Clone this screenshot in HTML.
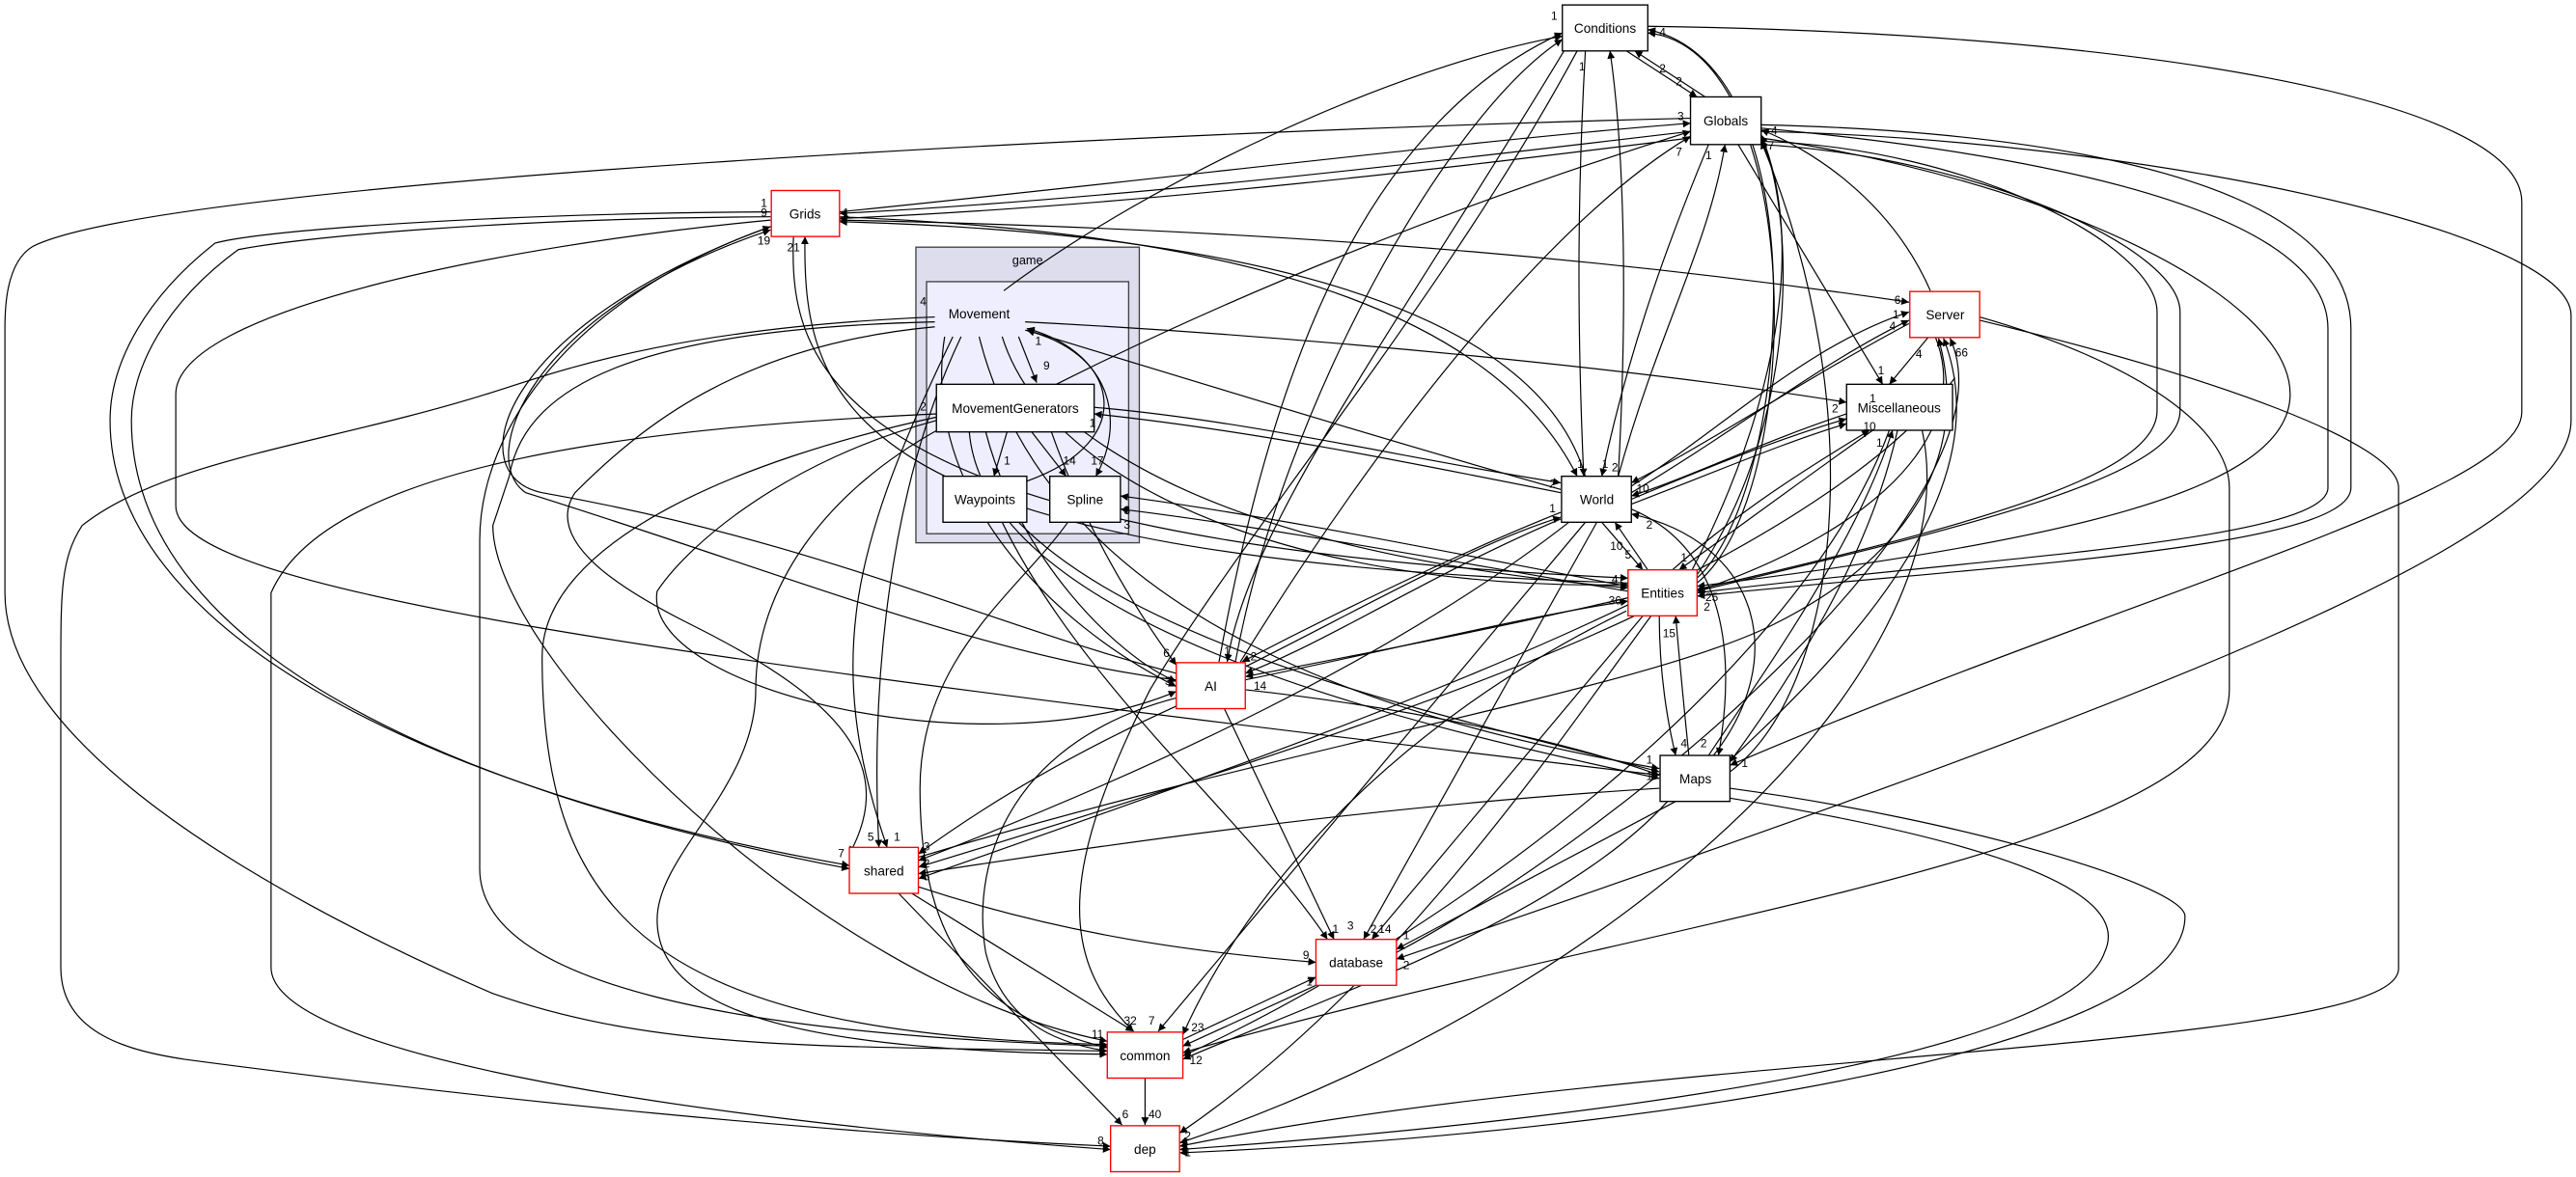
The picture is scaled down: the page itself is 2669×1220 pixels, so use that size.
<!DOCTYPE html>
<html><head><meta charset="utf-8"><style>
html,body{margin:0;padding:0;background:#fff;}
svg{display:block;}
text{font-family:"Liberation Sans","DejaVu Sans",sans-serif;}
</style></head><body>
<svg width="2669" height="1220" viewBox="0 0 1568 716.7" xmlns="http://www.w3.org/2000/svg">
<defs>
<marker id="a" viewBox="0 0 10 10" refX="10" refY="5" markerWidth="6" markerHeight="4.6" markerUnits="userSpaceOnUse" orient="auto"><path d="M0,0L10,5L0,10z" fill="#000"/></marker>
</defs>
<rect width="1568" height="717" fill="#fff"/>
<!-- clusters -->
<rect x="557.5" y="150.5" width="136" height="180" fill="#ddddee" stroke="#444" stroke-width="0.8"/>
<text x="625.5" y="161" font-size="7.5" text-anchor="middle">game</text>
<rect x="564" y="171.5" width="123" height="153.5" fill="#eeeeff" stroke="#444" stroke-width="0.8"/>

<g fill="none" stroke="#000" stroke-width="0.7" marker-end="url(#a)">
<!-- inside game -->
<path d="M620,205 L631,233"/>
<path d="M613,263 L605,290"/>
<path d="M628,263 L649,290"/>
<path d="M624,201 C680,215 684,260 667,290"/>
<path d="M625,293 C695,268 680,215 625,200"/>
<!-- Movement / MG outward -->
<path d="M643,234 C760,175 900,120 1029,80"/>
<path d="M611,177 C700,110 850,40 951,22"/>
<path d="M624,196 C800,205 1000,225 1124,245"/>
<path d="M950,298 C850,270 720,230 625,201"/>
<path d="M950,300 C850,280 760,262 666,252"/>
<path d="M666,248 C760,256 860,280 950,294"/>
<path d="M991,357 C900,340 780,315 682,302"/>
<path d="M991,360 C900,345 780,322 682,310"/>
<!-- Grids -->
<path d="M511,129 C700,110 900,85 1029,75"/>
<path d="M1029,80 C900,95 700,120 511,130"/>
<path d="M1029,84 C900,100 700,125 511,133"/>
<path d="M511,132 C700,140 900,170 960,290"/>
<path d="M965,290 C930,170 700,140 511,135"/>
<path d="M511,134 C800,140 1000,160 1162,184"/>
<path d="M483,144 C480,220 500,330 991,352"/>
<path d="M991,355 C520,340 488,250 490,144"/>
<!-- Conditions / Globals -->
<path d="M965,31 C960,120 960,200 964,290"/>
<path d="M985,290 C990,200 990,100 980,31"/>
<path d="M990,31 L1033,59"/>
<path d="M1038,59 L995,31"/>
<path d="M1040,88 C1010,160 990,220 975,290"/>
<path d="M985,290 C1010,200 1040,150 1050,88"/>
<path d="M1058,88 L1146,234"/>
<path d="M960,31 C880,180 760,320 700,420 C650,520 640,580 690,628"/>
<path d="M742,403 C770,250 820,80 951,20"/>
<path d="M752,403 C780,250 880,70 951,24"/>
<path d="M952,31 C850,200 760,320 747,403"/>
<path d="M755,403 C850,250 950,130 1029,83"/>
<path d="M1175,177 C1150,120 1100,90 1072,79"/>
<path d="M1030,347 C1080,250 1100,150 1072,82"/>
<path d="M1033,350 C1100,250 1090,120 1072,85"/>
<path d="M1033,352 C1090,300 1110,40 1003,18"/>
<path d="M1033,355 C1100,300 1100,30 1003,20"/>
<!-- far right curves -->
<path d="M1003,16 C1300,20 1535,60 1535,123 L1535,251 C1535,300 1300,360 1053,466"/>
<path d="M1072,80 C1300,85 1565,140 1565,192 L1565,256 C1565,330 1300,430 850,584"/>
<path d="M1072,78 C1200,90 1417,120 1417,200 L1417,297 C1417,330 1200,340 1033,361"/>
<path d="M1072,76 C1250,80 1431,110 1431,200 L1431,297 C1431,335 1200,345 1033,363"/>
<path d="M1072,86 C1200,90 1313,150 1313,190 L1313,250 C1313,290 1200,320 1033,359"/>
<path d="M1072,88 C1200,95 1327,150 1327,190 L1327,250 C1327,290 1200,320 1033,360"/>
<path d="M1072,84 C1250,110 1394,180 1394,240 C1394,300 1250,330 1033,357"/>
<path d="M1205,193 C1300,220 1357,260 1357,297 L1357,420 C1357,520 1000,560 720,641"/>
<path d="M1205,195 C1350,230 1460,270 1460,297 L1460,590 C1460,640 1000,640 718,698"/>
<path d="M1053,486 C1200,510 1300,540 1281,580 C1260,640 1000,680 718,700"/>
<path d="M1053,480 C1200,500 1330,540 1330,558 C1330,640 1000,690 718,702"/>
<!-- Server / Misc / World / Entities -->
<path d="M993,296 C1050,260 1100,210 1162,190"/>
<path d="M993,300 C1060,260 1110,220 1162,195"/>
<path d="M1162,197 C1100,230 1040,270 993,294"/>
<path d="M993,304 C1050,280 1090,265 1124,255"/>
<path d="M993,307 C1050,285 1090,268 1124,258"/>
<path d="M1124,252 C1070,270 1030,290 993,302"/>
<path d="M1140,262 C1100,290 1060,320 1022,347"/>
<path d="M1018,347 C1060,310 1100,285 1138,262"/>
<path d="M1174,205 L1150,234"/>
<path d="M1178,205 C1200,260 1150,320 1033,360"/>
<path d="M1053,463 C1120,400 1220,300 1183,206"/>
<path d="M850,580 C1000,500 1230,300 1187,206"/>
<path d="M559,522 C800,450 1000,420 1080,380 C1160,340 1200,280 1180,206"/>
<path d="M975,318 L1000,347"/>
<path d="M1003,347 L983,318"/>
<path d="M1043,460 C1090,400 1070,330 993,313"/>
<path d="M993,310 C1040,330 1060,380 1046,460"/>
<path d="M1010,375 C1010,410 1015,440 1020,460"/>
<path d="M1028,460 C1025,430 1022,400 1020,375"/>
<path d="M1155,262 C1140,330 1100,400 1053,464"/>
<path d="M1040,460 C1080,400 1130,330 1152,262"/>
<path d="M1053,470 C1120,420 1140,250 1072,86"/>
<!-- AI -->
<path d="M950,312 C880,340 800,380 756,403"/>
<path d="M758,406 C830,370 900,330 950,315"/>
<path d="M950,316 C870,350 810,390 758,410"/>
<path d="M991,364 C900,385 820,400 758,412"/>
<path d="M758,414 C850,395 930,375 991,366"/>
<path d="M758,420 C850,430 950,450 1010,472"/>
<path d="M716,430 C650,460 600,490 559,520"/>
<path d="M745,431 L812,572"/>
<path d="M716,425 C620,450 590,520 600,580 C610,620 640,635 674,640"/>
<path d="M640,263 C660,320 690,370 716,405"/>
<path d="M600,263 C620,340 680,400 716,415"/>
<path d="M575,205 C560,300 640,380 716,418"/>
<path d="M580,205 C520,330 500,400 540,516"/>
<path d="M585,205 C540,300 530,420 535,516"/>
<path d="M610,205 C640,300 800,360 991,356"/>
<path d="M660,263 C750,330 900,350 991,358"/>
<path d="M596,205 C640,380 850,440 1010,468"/>
<path d="M590,263 C600,380 850,440 1010,474"/>
<path d="M610,318 C660,420 760,500 808,572"/>
<path d="M620,318 C700,400 900,440 1010,470"/>
<path d="M650,318 C620,360 560,400 560,480 C560,580 600,620 674,638"/>
<path d="M716,410 C600,380 500,330 330,300 C280,290 300,200 469,138"/>
<path d="M716,414 C600,400 480,350 320,300 C290,280 320,190 469,140"/>
<!-- bottom -->
<path d="M559,540 C650,570 730,580 801,586"/>
<path d="M555,544 L690,628"/>
<path d="M547,544 L683,685"/>
<path d="M697,656 L697,685"/>
<path d="M720,633 L801,595"/>
<path d="M801,600 L720,637"/>
<path d="M965,318 L705,628"/>
<path d="M972,318 L830,572"/>
<path d="M1000,375 L835,572"/>
<path d="M995,375 C900,420 750,470 559,528"/>
<path d="M990,372 C850,440 760,540 720,630"/>
<path d="M1005,375 C950,450 850,600 718,690"/>
<path d="M1020,488 L850,578"/>
<path d="M1010,480 C850,490 700,510 559,532"/>
<path d="M1015,488 C950,560 800,610 720,645"/>
<path d="M1150,262 C1100,400 900,560 720,643"/>
<path d="M1170,262 C1200,400 1000,600 718,696"/>
<path d="M955,318 C850,400 700,470 559,524"/>
<path d="M1190,230 C1100,350 800,450 559,535"/>
<!-- far left curves -->
<path d="M1029,72 C700,80 100,110 20,150 C3,160 3,190 3,200 L3,361 C3,450 150,540 300,605 C400,640 500,637 674,640"/>
<path d="M469,129 C300,130 160,140 131,148 C90,180 67,220 67,256 C67,380 250,480 517,527"/>
<path d="M469,132 C300,133 180,145 145,152 C100,185 80,225 80,256 C80,390 260,480 517,529"/>
<path d="M469,134 C300,150 107,190 107,240 L107,308 C107,360 400,400 1010,472"/>
<path d="M569,193 C400,200 330,230 296,240 C200,270 100,280 50,320 C37,340 37,360 37,409 L37,589 C37,630 80,640 112,645 C300,670 500,690 676,698"/>
<path d="M570,252 C400,260 200,280 165,361 L165,589 C165,640 400,680 676,700"/>
<path d="M469,138 C350,180 292,260 292,329 L292,529 C292,600 450,630 674,637"/>
<path d="M569,196 C400,200 320,230 310,290 L300,320 C300,400 500,600 674,634"/>
<path d="M570,254 C450,280 330,330 330,400 C330,560 400,630 674,636"/>
<path d="M569,199 C450,210 390,260 350,300 C330,330 380,360 420,380 C500,420 550,460 517,520"/>
<path d="M570,256 C480,280 420,330 400,360 C390,420 600,470 716,421"/>
<path d="M574,260 C500,300 460,360 460,420 C460,480 400,520 400,560 C400,620 500,640 674,642"/>
</g>

<!-- nodes -->
<g stroke-width="0.8">
<rect x="951" y="3" width="52" height="28" fill="#fff" stroke="#000"/>
<rect x="1029" y="59" width="43" height="29" fill="#fff" stroke="#000"/>
<rect x="469.5" y="116" width="41.5" height="28" fill="#fff" stroke="#f00"/>
<rect x="1162.5" y="177.5" width="42.5" height="28" fill="#fff" stroke="#f00"/>
<rect x="1124" y="234" width="64.5" height="28" fill="#fff" stroke="#000"/>
<rect x="950.5" y="290" width="42.5" height="28" fill="#fff" stroke="#000"/>
<rect x="991" y="347" width="42" height="28" fill="#fff" stroke="#f00"/>
<rect x="1010.5" y="460" width="42.5" height="28" fill="#fff" stroke="#000"/>
<rect x="716" y="403.5" width="42" height="28" fill="#fff" stroke="#f00"/>
<rect x="517" y="516" width="42" height="28" fill="#fff" stroke="#f00"/>
<rect x="801" y="572" width="49" height="28" fill="#fff" stroke="#f00"/>
<rect x="674" y="628.5" width="46" height="28" fill="#fff" stroke="#f00"/>
<rect x="676" y="685.5" width="42" height="28" fill="#fff" stroke="#f00"/>
<rect x="570" y="234" width="96" height="29" fill="#fff" stroke="#000"/>
<rect x="574" y="290" width="51" height="28" fill="#fff" stroke="#000"/>
<rect x="639" y="290" width="43" height="28" fill="#fff" stroke="#000"/>
</g>
<g font-size="8" text-anchor="middle">
<text x="977" y="20">Conditions</text>
<text x="1050.5" y="76.5">Globals</text>
<text x="490" y="133">Grids</text>
<text x="1184" y="194.5">Server</text>
<text x="1156" y="251">Miscellaneous</text>
<text x="972" y="307">World</text>
<text x="1012" y="364">Entities</text>
<text x="1032" y="477">Maps</text>
<text x="737" y="420.5">AI</text>
<text x="538" y="533">shared</text>
<text x="825.5" y="589">database</text>
<text x="697" y="645.5">common</text>
<text x="697" y="702.5">dep</text>
<text x="596" y="194">Movement</text>
<text x="618" y="251.5">MovementGenerators</text>
<text x="599.5" y="307">Waypoints</text>
<text x="660.5" y="307">Spline</text>
</g>
<!-- edge labels -->
<g font-size="7" text-anchor="middle">
<text x="637" y="225">9</text><text x="613" y="283">1</text><text x="651" y="283">14</text><text x="668" y="283">17</text><text x="632" y="210">1</text>
<text x="562" y="186">4</text><text x="562" y="250">2</text><text x="665" y="260">1</text><text x="686" y="313">3</text><text x="686" y="322">3</text>
<text x="465" y="126">1</text><text x="465" y="132">9</text><text x="465" y="149">19</text><text x="483" y="153">21</text><text x="515" y="132">1</text>
<text x="946" y="12">1</text><text x="963" y="43">1</text><text x="1012" y="44">2</text><text x="1022" y="52">2</text><text x="1012" y="22">4</text>
<text x="1023" y="73">3</text><text x="1022" y="95">7</text><text x="1040" y="97">1</text><text x="1080" y="82">4</text><text x="1078" y="91">7</text>
<text x="1155" y="185">6</text><text x="1154" y="194">1</text><text x="1152" y="201">4</text><text x="1194" y="217">66</text><text x="1168" y="218">4</text>
<text x="1140" y="245">1</text><text x="1117" y="251">2</text><text x="1138" y="262">10</text><text x="1144" y="272">1</text><text x="1145" y="228">1</text>
<text x="945" y="297">2</text><text x="945" y="312">1</text><text x="962" y="285">1</text><text x="977" y="285">1</text><text x="983" y="287">2</text><text x="1000" y="300">10</text><text x="1004" y="322">2</text>
<text x="984" y="335">10</text><text x="991" y="340">5</text><text x="983" y="355">4</text><text x="983" y="368">36</text><text x="1042" y="366">25</text><text x="1025" y="342">1</text><text x="1039" y="372">2</text>
<text x="1016" y="388">15</text><text x="1025" y="455">4</text><text x="1037" y="455">2</text><text x="1004" y="465">1</text><text x="1004" y="475">1</text><text x="1062" y="467">1</text>
<text x="710" y="400">6</text><text x="747" y="399">1</text><text x="763" y="402">2</text><text x="711" y="417">3</text><text x="767" y="420">14</text>
<text x="530" y="512">5</text><text x="546" y="512">1</text><text x="564" y="518">3</text><text x="564" y="528">2</text><text x="564" y="536">5</text><text x="512" y="522">7</text>
<text x="795" y="584">9</text><text x="813" y="568">1</text><text x="822" y="566">3</text><text x="836" y="568">2</text><text x="843" y="568">14</text><text x="856" y="572">1</text><text x="856" y="590">2</text><text x="797" y="600">1</text>
<text x="688" y="624">32</text><text x="701" y="624">7</text><text x="729" y="628">23</text><text x="668" y="632">11</text><text x="728" y="648">12</text>
<text x="685" y="681">6</text><text x="703" y="681">40</text><text x="670" y="697">8</text><text x="723" y="694">2</text><text x="723" y="704">1</text>
</g>
</svg>
</body></html>
